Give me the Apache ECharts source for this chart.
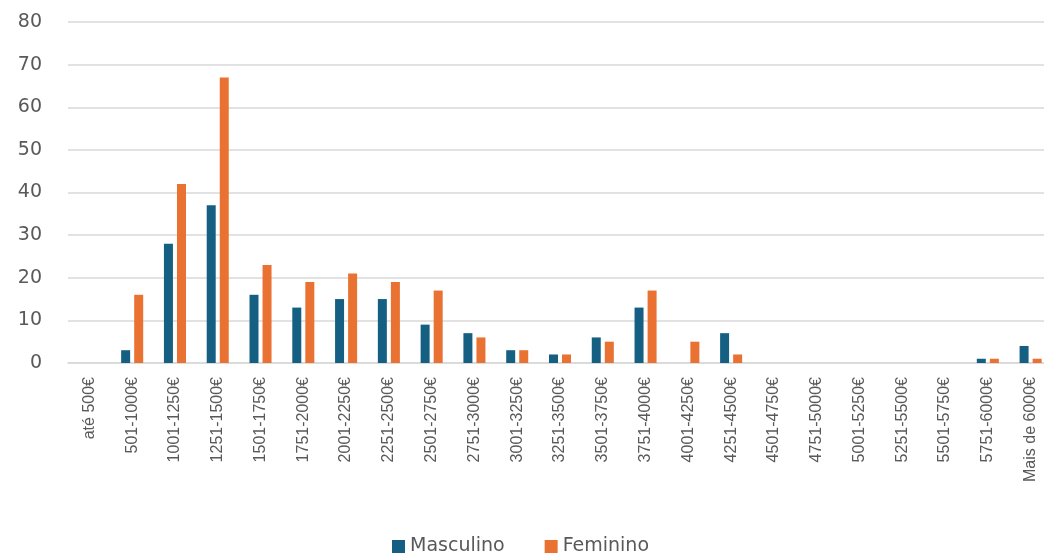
<!DOCTYPE html>
<html>
<head>
<meta charset="utf-8">
<script src="https://cdn.jsdelivr.net/npm/echarts@6/dist/echarts.min.js"></script>
<style>
  html, body { margin: 0; padding: 0; background: #fff; }
  #chartDiv { width: 1044px; height: 557px; }
</style>
</head>
<body>
<div id="chartDiv"></div>
<script>
const categories = ['até 500€', '501-1000€', '1001-1250€', '1251-1500€', '1501-1750€', '1751-2000€',
	'2001-2250€', '2251-2500€', '2501-2750€', '2751-3000€', '3001-3250€', '3251-3500€',
	'3501-3750€', '3751-4000€', '4001-4250€', '4251-4500€', '4501-4750€', '4751-5000€',
	'5001-5250€', '5251-5500€', '5501-5750€', '5751-6000€', 'Mais de 6000€'];
const masculino = [0, 3, 28, 37, 16, 13, 15, 15, 9, 7, 3, 2, 6, 13, 0, 7, 0, 0, 0, 0, 0, 1, 4];
const feminino = [0, 16, 42, 67, 23, 19, 21, 19, 17, 6, 3, 2, 5, 17, 5, 2, 0, 0, 0, 0, 0, 1, 1];

let chart = echarts.init(document.getElementById('chartDiv'));
let option = {
	animation: false,
	grid: { left: 68, width: 984, top: 22, bottom: 194, outerBoundsMode: 'none' },
	legend: {
		top: 537,
		left: 392,
		padding: 0,
		itemWidth: 13,
		itemHeight: 13,
		itemGap: 40,
		icon: 'rect',
		textStyle: { color: '#595959', fontSize: 19, fontFamily: 'DejaVu Sans', width: 120 },
		data: ['Masculino', 'Feminino']
	},
	xAxis: {
		type: 'category',
		data: categories,
		axisLine: { lineStyle: { color: '#d9d9d9', width: 1.5 } },
		axisTick: { show: false },
		axisLabel: {
			rotate: 90,
			interval: 0,
			color: '#595959',
			fontSize: 16,
			fontFamily: 'Liberation Sans',
			margin: 14
		}
	},
	yAxis: {
		type: 'value',
		min: 0,
		max: 80,
		interval: 10,
		axisLine: { show: false },
		axisTick: { show: false },
		splitLine: { lineStyle: { color: '#d9d9d9', width: 1.5 } },
		axisLabel: { color: '#595959', fontSize: 19, margin: 26, fontFamily: 'DejaVu Sans' }
	},
	series: [{
			name: 'Masculino',
			type: 'bar',
			data: masculino,
			barWidth: 9,
			barGap: '45%',
			itemStyle: { color: '#156082' }
		},
		{
			name: 'Feminino',
			type: 'bar',
			data: feminino,
			barWidth: 9,
			barGap: '45%',
			itemStyle: { color: '#E97132' }
		}
	]
};
chart.setOption(option);
</script>
</body>
</html>
